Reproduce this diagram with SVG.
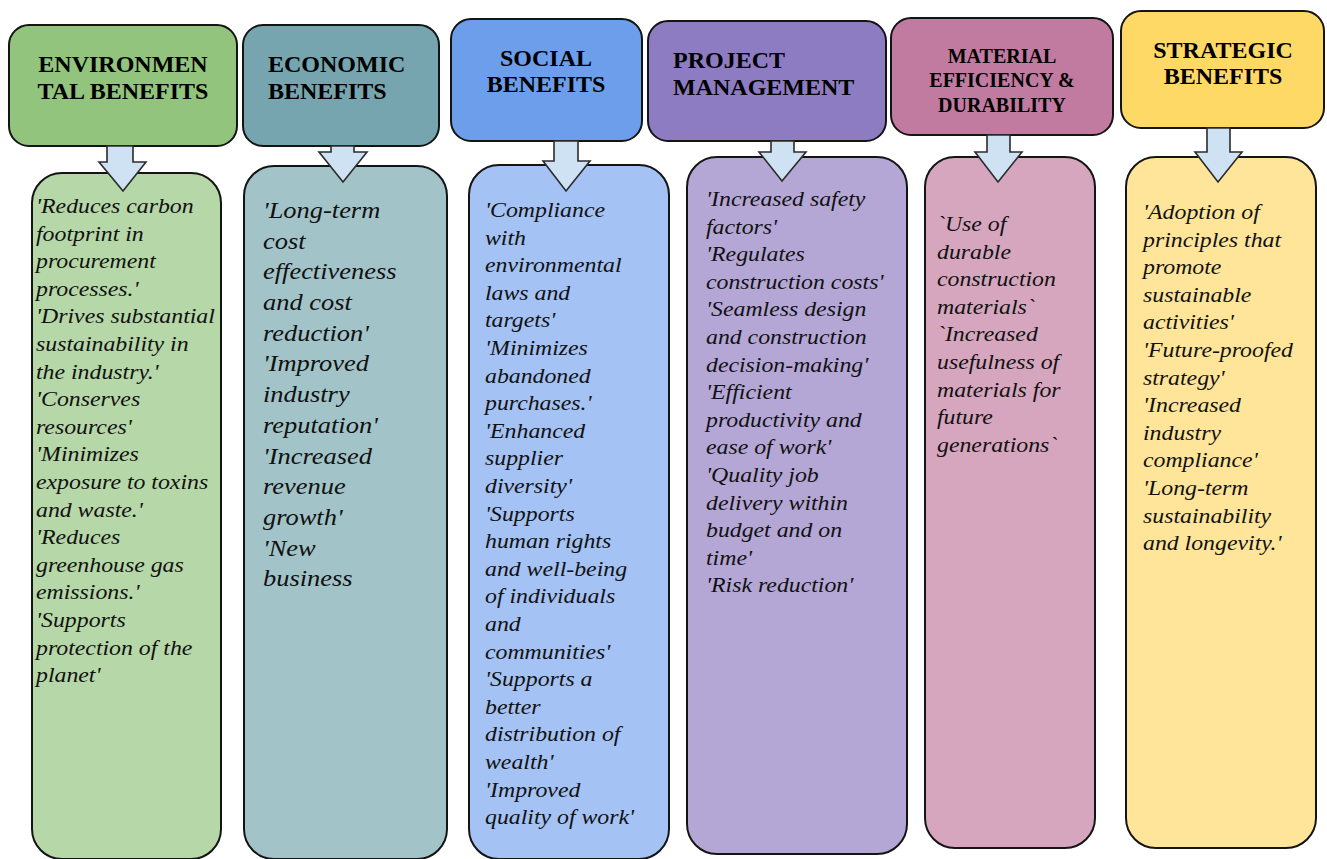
<svg xmlns="http://www.w3.org/2000/svg" width="1327" height="859" viewBox="0 0 1327 859">
  <style>
    .box { stroke: #141414; stroke-width: 2; }
    .head { font-family: "Liberation Serif", "Times New Roman", serif; font-weight: bold; font-size: 24px; fill: #000; }
    .head.sm { font-size: 20px; }
    .body { font-family: "Liberation Serif", "Times New Roman", serif; font-style: italic; font-size: 20px; fill: #111; }
    .body.lg { font-size: 23px; }
    .arrow { fill: #cfe2f3; stroke: #2b2b2b; stroke-width: 1.6; stroke-linejoin: miter; }
  </style>
  <rect width="1327" height="859" fill="#ffffff"/>

  <!-- Environmental -->
  <g id="environmental">
    <rect class="box" x="9" y="25" width="228" height="121" rx="20" fill="#93c47d"/>
    <text class="head" text-anchor="middle"><tspan x="123" y="72">ENVIRONMEN</tspan><tspan x="123" y="99">TAL BENEFITS</tspan></text>
    <rect class="box" x="32" y="173" width="189" height="686" rx="30" fill="#b6d7a8"/>
    <text class="body" transform="matrix(1.19,0,0,1,-6.84,0)">
      <tspan x="36" y="213">'Reduces carbon</tspan>
      <tspan x="36" dy="27.6">footprint in</tspan>
      <tspan x="36" dy="27.6">procurement</tspan>
      <tspan x="36" dy="27.6">processes.'</tspan>
      <tspan x="36" dy="27.6">'Drives substantial</tspan>
      <tspan x="36" dy="27.6">sustainability in</tspan>
      <tspan x="36" dy="27.6">the industry.'</tspan>
      <tspan x="36" dy="27.6">'Conserves</tspan>
      <tspan x="36" dy="27.6">resources'</tspan>
      <tspan x="36" dy="27.6">'Minimizes</tspan>
      <tspan x="36" dy="27.6">exposure to toxins</tspan>
      <tspan x="36" dy="27.6">and waste.'</tspan>
      <tspan x="36" dy="27.6">'Reduces</tspan>
      <tspan x="36" dy="27.6">greenhouse gas</tspan>
      <tspan x="36" dy="27.6">emissions.'</tspan>
      <tspan x="36" dy="27.6">'Supports</tspan>
      <tspan x="36" dy="27.6">protection of the</tspan>
      <tspan x="36" dy="27.6">planet'</tspan>
    </text>
  </g>

  <!-- Economic -->
  <g id="economic">
    <rect class="box" x="243" y="25" width="196" height="121" rx="20" fill="#76a5af"/>
    <text class="head"><tspan x="268" y="72">ECONOMIC</tspan><tspan x="268" y="99">BENEFITS</tspan></text>
    <rect class="box" x="244" y="166" width="203" height="693" rx="30" fill="#a2c4c9"/>
    <text class="body lg" transform="matrix(1.15,0,0,1,-39.45,0)">
      <tspan x="263" y="218">'Long-term</tspan>
      <tspan x="263" dy="30.7">cost</tspan>
      <tspan x="263" dy="30.7">effectiveness</tspan>
      <tspan x="263" dy="30.7">and cost</tspan>
      <tspan x="263" dy="30.7">reduction'</tspan>
      <tspan x="263" dy="30.7">'Improved</tspan>
      <tspan x="263" dy="30.7">industry</tspan>
      <tspan x="263" dy="30.7">reputation'</tspan>
      <tspan x="263" dy="30.7">'Increased</tspan>
      <tspan x="263" dy="30.7">revenue</tspan>
      <tspan x="263" dy="30.7">growth'</tspan>
      <tspan x="263" dy="30.7">'New</tspan>
      <tspan x="263" dy="30.7">business</tspan>
    </text>
  </g>

  <!-- Social -->
  <g id="social">
    <rect class="box" x="451" y="19" width="191" height="122" rx="20" fill="#6d9eeb"/>
    <text class="head" text-anchor="middle"><tspan x="546" y="66">SOCIAL</tspan><tspan x="546" y="92">BENEFITS</tspan></text>
    <rect class="box" x="469" y="165" width="200" height="694" rx="30" fill="#a4c2f4"/>
    <text class="body" transform="matrix(1.19,0,0,1,-92.15,0)">
      <tspan x="485" y="217">'Compliance</tspan>
      <tspan x="485" dy="27.6">with</tspan>
      <tspan x="485" dy="27.6">environmental</tspan>
      <tspan x="485" dy="27.6">laws and</tspan>
      <tspan x="485" dy="27.6">targets'</tspan>
      <tspan x="485" dy="27.6">'Minimizes</tspan>
      <tspan x="485" dy="27.6">abandoned</tspan>
      <tspan x="485" dy="27.6">purchases.'</tspan>
      <tspan x="485" dy="27.6">'Enhanced</tspan>
      <tspan x="485" dy="27.6">supplier</tspan>
      <tspan x="485" dy="27.6">diversity'</tspan>
      <tspan x="485" dy="27.6">'Supports</tspan>
      <tspan x="485" dy="27.6">human rights</tspan>
      <tspan x="485" dy="27.6">and well-being</tspan>
      <tspan x="485" dy="27.6">of individuals</tspan>
      <tspan x="485" dy="27.6">and</tspan>
      <tspan x="485" dy="27.6">communities'</tspan>
      <tspan x="485" dy="27.6">'Supports a</tspan>
      <tspan x="485" dy="27.6">better</tspan>
      <tspan x="485" dy="27.6">distribution of</tspan>
      <tspan x="485" dy="27.6">wealth'</tspan>
      <tspan x="485" dy="27.6">'Improved</tspan>
      <tspan x="485" dy="27.6">quality of work'</tspan>
    </text>
  </g>

  <!-- Project management -->
  <g id="project-management">
    <rect class="box" x="648" y="21" width="238" height="120" rx="20" fill="#8e7cc3"/>
    <text class="head"><tspan x="673" y="68">PROJECT</tspan><tspan x="673" y="95">MANAGEMENT</tspan></text>
    <rect class="box" x="687" y="157" width="220" height="697" rx="30" fill="#b4a7d6"/>
    <text class="body" transform="matrix(1.19,0,0,1,-134.14,0)">
      <tspan x="706" y="206">'Increased safety</tspan>
      <tspan x="706" dy="27.6">factors'</tspan>
      <tspan x="706" dy="27.6">'Regulates</tspan>
      <tspan x="706" dy="27.6">construction costs'</tspan>
      <tspan x="706" dy="27.6">'Seamless design</tspan>
      <tspan x="706" dy="27.6">and construction</tspan>
      <tspan x="706" dy="27.6">decision-making'</tspan>
      <tspan x="706" dy="27.6">'Efficient</tspan>
      <tspan x="706" dy="27.6">productivity and</tspan>
      <tspan x="706" dy="27.6">ease of work'</tspan>
      <tspan x="706" dy="27.6">'Quality job</tspan>
      <tspan x="706" dy="27.6">delivery within</tspan>
      <tspan x="706" dy="27.6">budget and on</tspan>
      <tspan x="706" dy="27.6">time'</tspan>
      <tspan x="706" dy="27.6">'Risk reduction'</tspan>
    </text>
  </g>

  <!-- Material efficiency -->
  <g id="material-efficiency">
    <rect class="box" x="891" y="18" width="222" height="117" rx="20" fill="#c27ba0"/>
    <text class="head sm" text-anchor="middle"><tspan x="1002" y="63">MATERIAL</tspan><tspan x="1002" y="87">EFFICIENCY &amp;</tspan><tspan x="1002" y="112">DURABILITY</tspan></text>
    <rect class="box" x="925" y="157" width="170" height="691" rx="30" fill="#d5a6bd"/>
    <text class="body" transform="matrix(1.19,0,0,1,-178.03,0)">
      <tspan x="937" y="231">`Use of</tspan>
      <tspan x="937" dy="27.6">durable</tspan>
      <tspan x="937" dy="27.6">construction</tspan>
      <tspan x="937" dy="27.6">materials`</tspan>
      <tspan x="937" dy="27.6">`Increased</tspan>
      <tspan x="937" dy="27.6">usefulness of</tspan>
      <tspan x="937" dy="27.6">materials for</tspan>
      <tspan x="937" dy="27.6">future</tspan>
      <tspan x="937" dy="27.6">generations`</tspan>
    </text>
  </g>

  <!-- Strategic -->
  <g id="strategic">
    <rect class="box" x="1121" y="11" width="203" height="117" rx="20" fill="#ffd966"/>
    <text class="head" text-anchor="middle"><tspan x="1223" y="58">STRATEGIC</tspan><tspan x="1223" y="84">BENEFITS</tspan></text>
    <rect class="box" x="1126" y="157" width="190" height="691" rx="30" fill="#ffe599"/>
    <text class="body" transform="matrix(1.19,0,0,1,-217.17,0)">
      <tspan x="1143" y="219">'Adoption of</tspan>
      <tspan x="1143" dy="27.6">principles that</tspan>
      <tspan x="1143" dy="27.6">promote</tspan>
      <tspan x="1143" dy="27.6">sustainable</tspan>
      <tspan x="1143" dy="27.6">activities'</tspan>
      <tspan x="1143" dy="27.6">'Future-proofed</tspan>
      <tspan x="1143" dy="27.6">strategy'</tspan>
      <tspan x="1143" dy="27.6">'Increased</tspan>
      <tspan x="1143" dy="27.6">industry</tspan>
      <tspan x="1143" dy="27.6">compliance'</tspan>
      <tspan x="1143" dy="27.6">'Long-term</tspan>
      <tspan x="1143" dy="27.6">sustainability</tspan>
      <tspan x="1143" dy="27.6">and longevity.'</tspan>
    </text>
  </g>

  <!-- Block arrows from each heading down into its list -->
  <g id="connectors">
    <polygon class="arrow" points="107,146 133,146 133,162 146,162 123,191 99,162 107,162"/>
    <polygon class="arrow" points="331,146 354,146 354,152 367,152 343,182 319,152 331,152"/>
    <polygon class="arrow" points="554,141 578,141 578,161 590,161 566,191 543,161 554,161"/>
    <polygon class="arrow" points="771,141 794,141 794,152 806,152 782,181 759,152 771,152"/>
    <polygon class="arrow" points="987,135 1010,135 1010,152 1022,152 998,182 975,152 987,152"/>
    <polygon class="arrow" points="1207,128 1230,128 1230,152 1242,152 1218,182 1195,152 1207,152"/>
  </g>
</svg>
